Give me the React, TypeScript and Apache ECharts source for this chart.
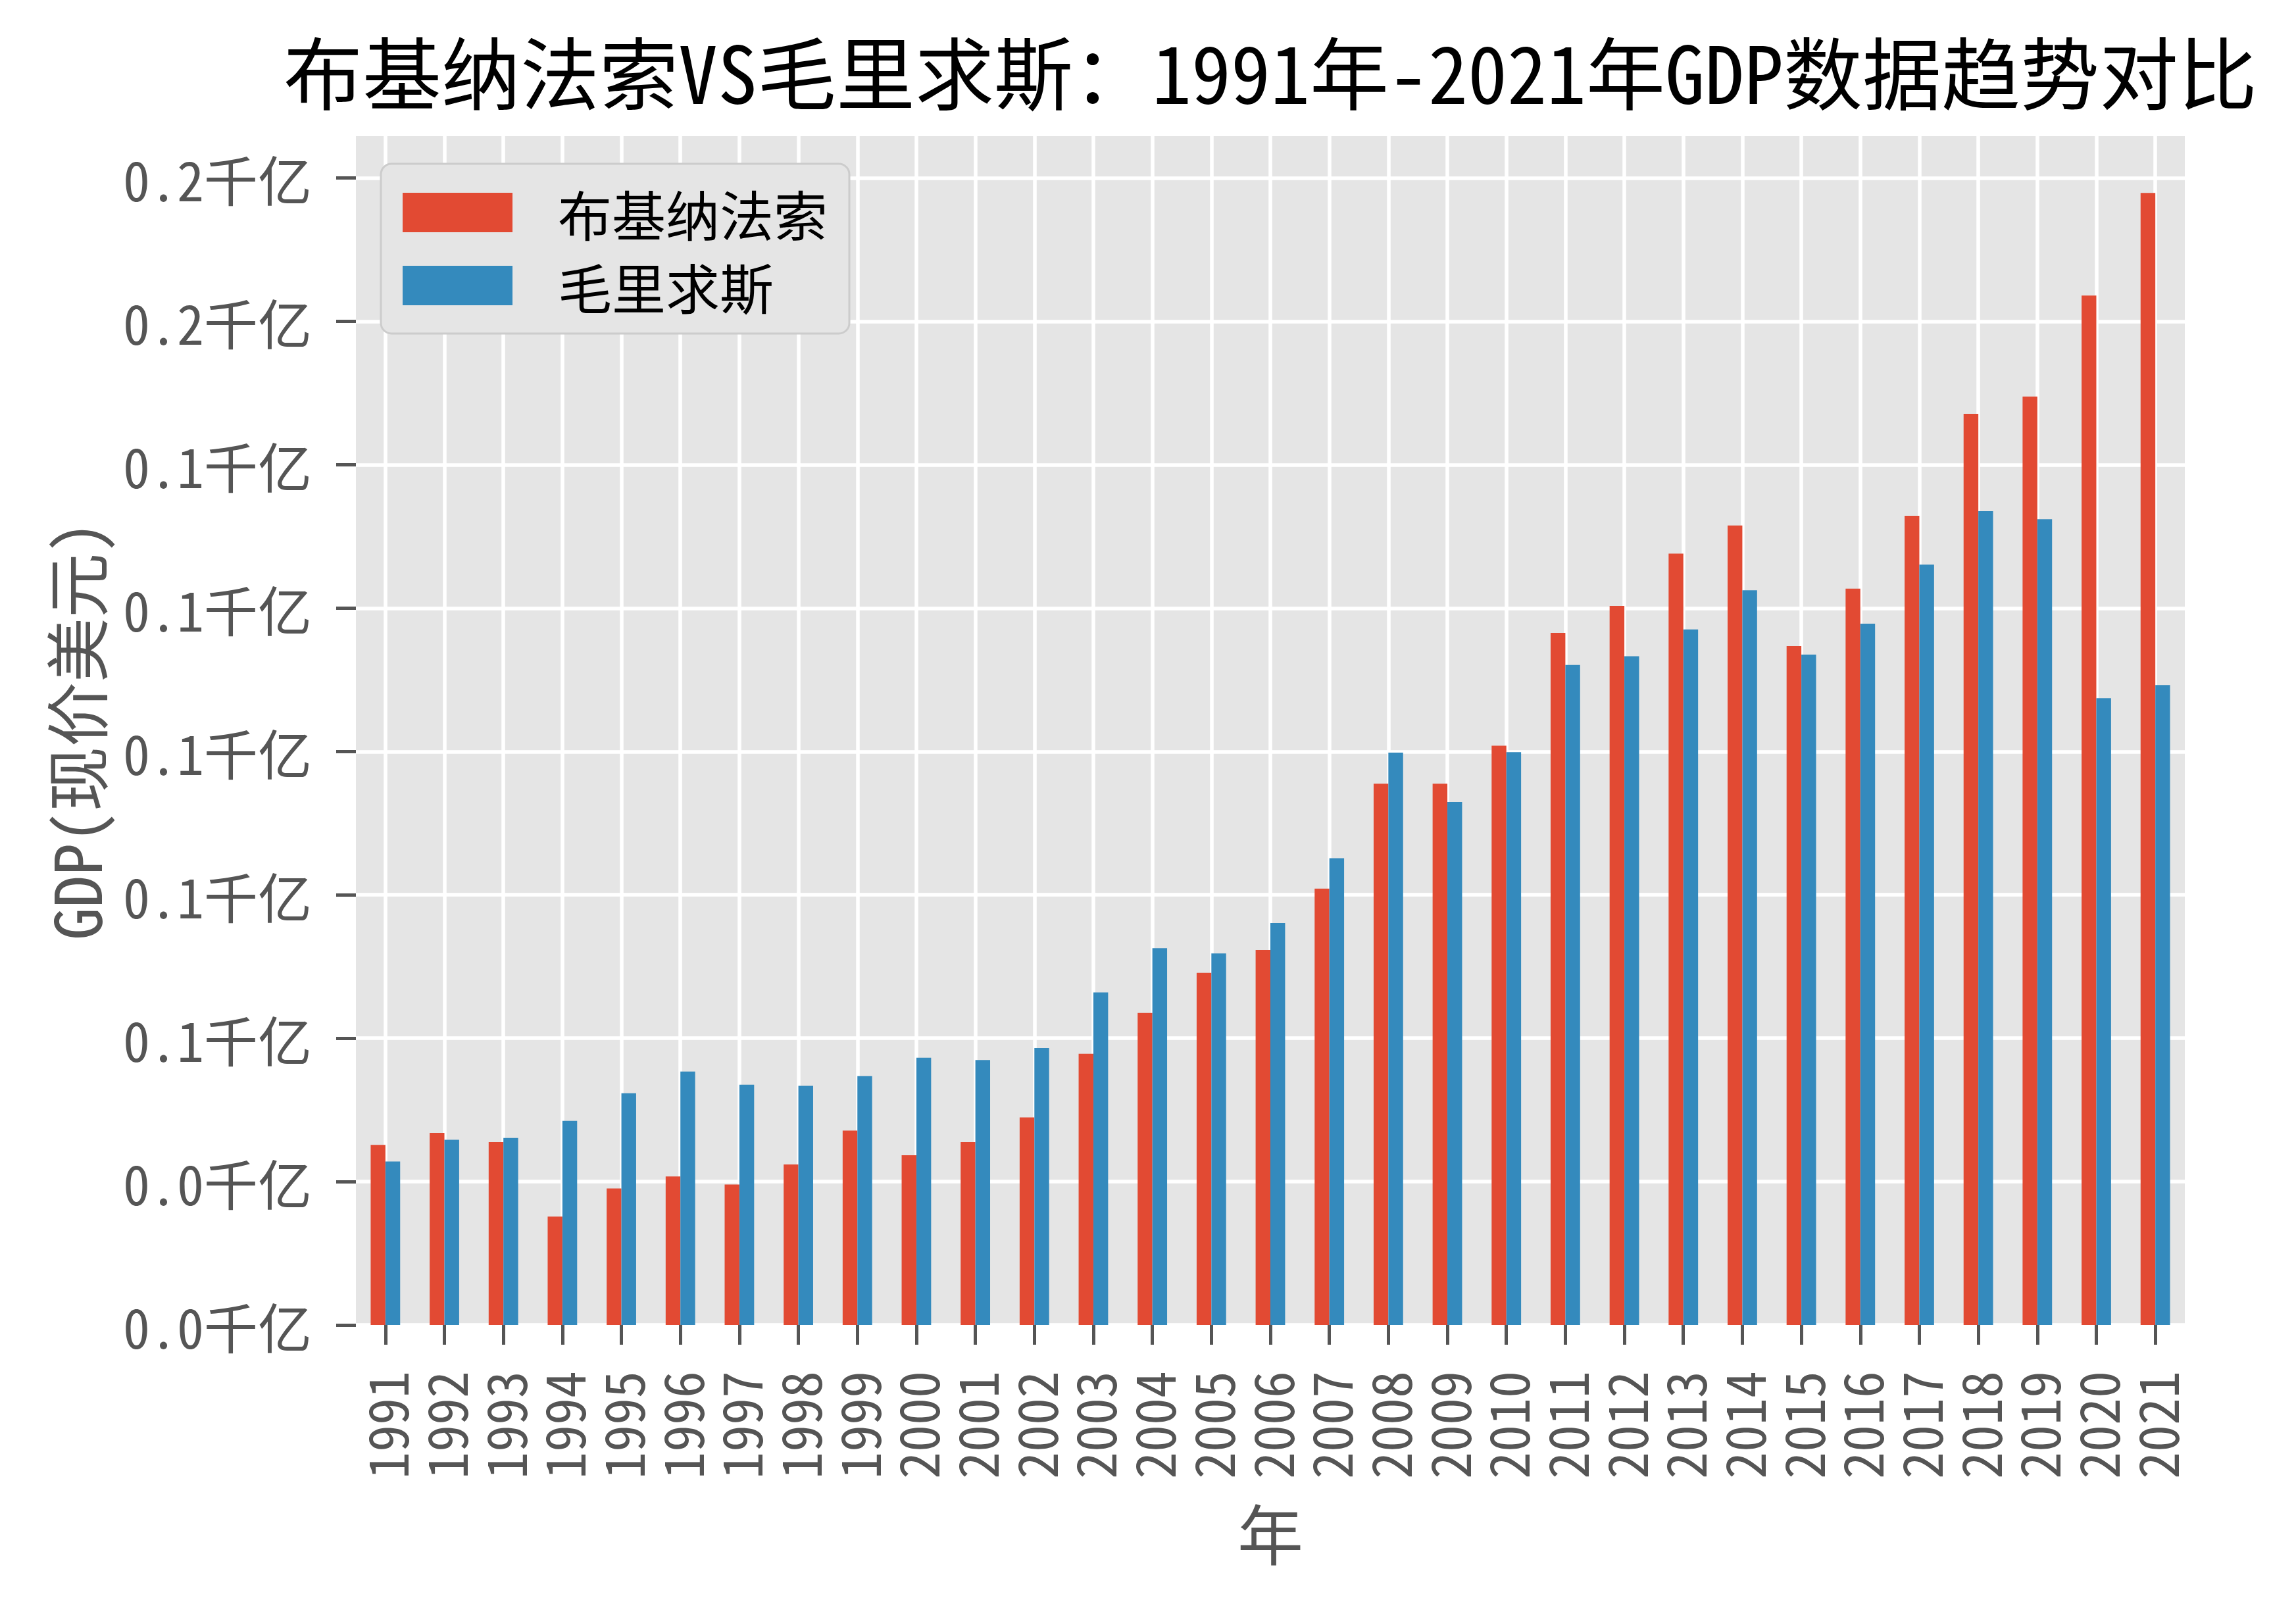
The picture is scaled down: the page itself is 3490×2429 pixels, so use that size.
import React, { useEffect, useRef } from 'react';
import * as echarts from 'echarts';

// GDP in billions of current US$ (十亿美元); axis labels are shown in 千亿 as in the original
const years = ['1991', '1992', '1993', '1994', '1995', '1996', '1997', '1998', '1999', '2000', '2001', '2002', '2003', '2004', '2005', '2006', '2007', '2008', '2009', '2010', '2011', '2012', '2013', '2014', '2015', '2016', '2017', '2018', '2019', '2020', '2021'];
const burkinaFaso = [3.14, 3.35, 3.19, 1.89, 2.38, 2.59, 2.45, 2.80, 3.39, 2.96, 3.19, 3.62, 4.73, 5.44, 6.14, 6.54, 7.61, 9.44, 9.44, 10.10, 12.07, 12.54, 13.45, 13.94, 11.84, 12.84, 14.11, 15.89, 16.19, 17.95, 19.74];
const mauritius = [2.85, 3.23, 3.26, 3.56, 4.04, 4.42, 4.19, 4.17, 4.34, 4.66, 4.62, 4.83, 5.80, 6.57, 6.48, 7.01, 8.14, 9.98, 9.12, 9.99, 11.51, 11.66, 12.13, 12.81, 11.69, 12.23, 13.26, 14.19, 14.05, 10.93, 11.16];
const seriesNames = ['布基纳法索', '毛里求斯'];
const yTickValues = [0, 2.5, 5, 7.5, 10, 12.5, 15, 17.5, 20];
const yTickLabels = ['0.0千亿', '0.0千亿', '0.1千亿', '0.1千亿', '0.1千亿', '0.1千亿', '0.1千亿', '0.2千亿', '0.2千亿'];
const yMax = 20.73;
const titleText = '布基纳法索VS毛里求斯：1991年-2021年GDP数据趋势对比';

const FONT = '"Noto Sans Mono CJK SC", "Noto Sans CJK SC", "DejaVu Sans", sans-serif';
const TICK_COLOR = '#555555';

export default function App() {
  const ref = useRef<HTMLDivElement>(null);

  useEffect(() => {
    if (!ref.current) return;
    const chart = echarts.init(ref.current, null, { renderer: 'svg' });
    const option: any = {
      animation: false,
      backgroundColor: '#ffffff',
      textStyle: { fontFamily: FONT },
      title: {
        text: titleText,
        left: 1931,
        top: 46,
        textAlign: 'center',
        padding: 0,
        textStyle: { fontSize: 120, fontWeight: 'normal', color: '#000000', fontFamily: FONT },
      },
      legend: {
        data: seriesNames,
        orient: 'vertical',
        left: 579,
        top: 249,
        icon: 'rect',
        itemWidth: 167,
        itemHeight: 60,
        itemGap: 29,
        padding: [33, 33, 32, 33],
        backgroundColor: '#E5E5E5',
        borderColor: '#CCCCCC',
        borderWidth: 3,
        borderRadius: 16,
        textStyle: { fontSize: 82, lineHeight: 82, color: '#000000', fontFamily: FONT, padding: [0, 0, 0, 64] },
      },
      grid: {
        left: 541,
        top: 207,
        width: 2780,
        height: 1807,
        show: true,
        backgroundColor: '#E5E5E5',
        borderWidth: 0,
      },
      xAxis: {
        type: 'category',
        data: years,
        boundaryGap: true,
        name: '年',
        nameLocation: 'middle',
        nameGap: 263,
        nameTextStyle: { fontSize: 100, color: TICK_COLOR, fontFamily: FONT },
        axisLine: { show: false },
        axisTick: { show: true, alignWithLabel: true, interval: 0, length: 30, lineStyle: { color: TICK_COLOR, width: 5 } },
        axisLabel: { interval: 0, rotate: 90, margin: 70, fontSize: 82, color: TICK_COLOR, fontFamily: FONT },
        splitLine: { show: true, alignWithLabel: true, interval: 0, lineStyle: { color: '#FFFFFF', width: 5.5 } },
      },
      yAxis: {
        type: 'value',
        min: 0,
        max: yMax,
        interval: 2.5,
        name: 'GDP(现价美元)',
        nameLocation: 'middle',
        nameGap: 380,
        nameTextStyle: { fontSize: 98, color: TICK_COLOR, fontFamily: FONT },
        axisLine: { show: false },
        axisTick: { show: true, length: 30, customValues: yTickValues, lineStyle: { color: TICK_COLOR, width: 5 } },
        axisLabel: {
          margin: 67,
          fontSize: 82,
          color: TICK_COLOR,
          fontFamily: FONT,
          customValues: yTickValues,
          formatter: (v: number) => {
            const i = yTickValues.findIndex((t) => Math.abs(t - v) < 1e-6);
            return i >= 0 ? yTickLabels[i] : '';
          },
        },
        splitLine: { show: true, lineStyle: { color: '#FFFFFF', width: 5.5 } },
      },
      series: [
        {
          name: seriesNames[0],
          type: 'bar',
          data: burkinaFaso,
          barWidth: 22.4,
          barGap: '0%',
          itemStyle: { color: '#E24A33' },
        },
        {
          name: seriesNames[1],
          type: 'bar',
          data: mauritius,
          barWidth: 22.4,
          barGap: '0%',
          itemStyle: { color: '#348ABD' },
        },
      ],
    };
    chart.setOption(option);
    return () => chart.dispose();
  }, []);

  return <div ref={ref} style={{ position: 'fixed', left: 0, top: 0, width: 3490, height: 2429 }} />;
}
